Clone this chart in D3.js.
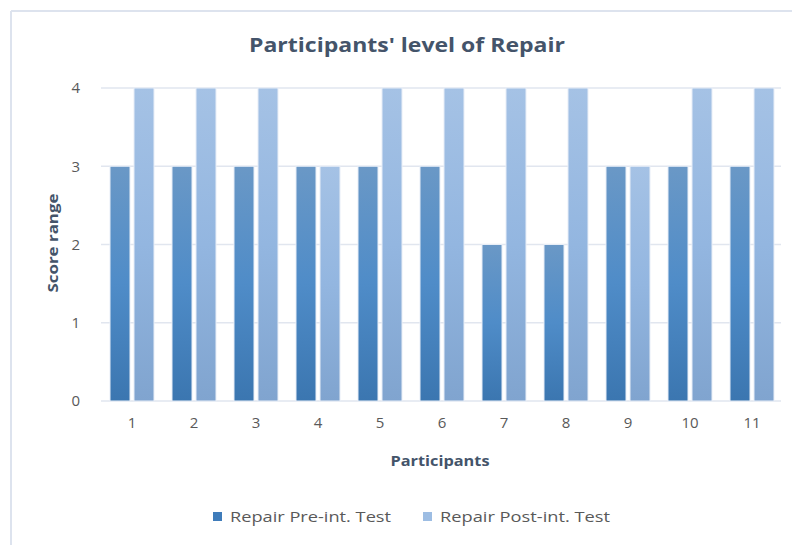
<!DOCTYPE html>
<html>
<head>
<meta charset="utf-8">
<script src="https://cdn.jsdelivr.net/npm/d3@7"></script>
<style>
body { margin: 0; background: #fff; }
text { font-family: "Open Sans", sans-serif; }
</style>
</head>
<body>
<script>
var participants = ['1','2','3','4','5','6','7','8','9','10','11'];
var preTest = [3,3,3,3,3,3,2,2,3,3,3];
var postTest = [4,4,4,3,4,4,4,4,3,4,4];
var yTicks = [0,1,2,3,4];
var seriesNames = ['Repair Pre-int. Test', 'Repair Post-int. Test'];

var W = 792, H = 545;
var svg = d3.select('body').append('svg').attr('width', W).attr('height', H);

// gradients
var defs = svg.append('defs');
var g1 = defs.append('linearGradient').attr('id', 'gPre').attr('x1', 0).attr('y1', 0).attr('x2', 0).attr('y2', 1);
g1.append('stop').attr('offset', '0%').attr('stop-color', '#6a98c6');
g1.append('stop').attr('offset', '50%').attr('stop-color', '#4f8cc8');
g1.append('stop').attr('offset', '100%').attr('stop-color', '#3b76b0');
var g2 = defs.append('linearGradient').attr('id', 'gPost').attr('x1', 0).attr('y1', 0).attr('x2', 0).attr('y2', 1);
g2.append('stop').attr('offset', '0%').attr('stop-color', '#a5c2e5');
g2.append('stop').attr('offset', '50%').attr('stop-color', '#93b6e0');
g2.append('stop').attr('offset', '100%').attr('stop-color', '#80a4cf');

// chart border (left and top only visible)
svg.append('line').attr('x1', 11).attr('y1', 11).attr('x2', W).attr('y2', 11).attr('stroke', '#dde3ee').attr('stroke-width', 2);
svg.append('line').attr('x1', 11).attr('y1', 11).attr('x2', 11).attr('y2', H).attr('stroke', '#dde3ee').attr('stroke-width', 2);

var x = d3.scaleBand().domain(participants).range([101, 783]);
var y = d3.scaleLinear().domain([0, 4]).range([401, 88]);

// gridlines
svg.selectAll('.grid').data(yTicks).enter().append('line')
    .attr('x1', 101).attr('x2', 781)
    .attr('y1', d => y(d)).attr('y2', d => y(d))
    .attr('stroke', '#e1e6ef').attr('stroke-width', 1.5);

var barW = 20, gap = 4;
var inner = d3.scaleBand().domain([0, 1]).range([0, barW * 2 + gap]).paddingInner(gap / (barW + gap));
var offset = (x.bandwidth() - (barW * 2 + gap)) / 2;

svg.selectAll('.pre').data(preTest).enter().append('rect')
    .attr('x', (d, i) => x(participants[i]) + offset + inner(0))
    .attr('y', d => y(d))
    .attr('width', inner.bandwidth())
    .attr('height', d => y(0) - y(d))
    .attr('fill', 'url(#gPre)')
    .attr('stroke', '#e8eef7').attr('stroke-width', 1);

svg.selectAll('.post').data(postTest).enter().append('rect')
    .attr('x', (d, i) => x(participants[i]) + offset + inner(1))
    .attr('y', d => y(d))
    .attr('width', inner.bandwidth())
    .attr('height', d => y(0) - y(d))
    .attr('fill', 'url(#gPost)')
    .attr('stroke', '#e8eef7').attr('stroke-width', 1);

// axes
var yAxis = svg.append('g').attr('transform', 'translate(80,0)')
    .call(d3.axisLeft(y).tickValues(yTicks).tickFormat(d3.format('d')).tickSize(0).tickPadding(0));
yAxis.select('.domain').remove();
yAxis.attr('font-size', 15).attr('font-family', '"Open Sans", sans-serif');
yAxis.selectAll('text').attr('fill', '#595959');

var xAxis = svg.append('g').attr('transform', 'translate(0,416)')
    .call(d3.axisBottom(x).tickSize(0).tickPadding(0));
xAxis.select('.domain').remove();
xAxis.attr('font-size', 15).attr('font-family', '"Open Sans", sans-serif');
xAxis.selectAll('text').attr('fill', '#595959').attr('dy', '0.8em');

// titles
svg.append('text').attr('x', 407).attr('y', 52).attr('text-anchor', 'middle')
    .attr('font-size', 20).attr('font-weight', 'bold').attr('fill', '#44546a')
    .attr('textLength', 316).attr('lengthAdjust', 'spacingAndGlyphs')
    .text("Participants' level of Repair");

svg.append('text').attr('x', 440).attr('y', 466).attr('text-anchor', 'middle')
    .attr('font-size', 15).attr('font-weight', 'bold').attr('fill', '#44546a')
    .attr('textLength', 99).attr('lengthAdjust', 'spacingAndGlyphs')
    .text('Participants');

svg.append('text').attr('transform', 'translate(58,243) rotate(-90)').attr('text-anchor', 'middle')
    .attr('font-size', 15).attr('font-weight', 'bold').attr('fill', '#44546a')
    .attr('textLength', 99).attr('lengthAdjust', 'spacingAndGlyphs')
    .text('Score range');

// legend
var legendX = [213, 423];
var legendFill = ['#3f7cba', '#9dbde3'];
var leg = svg.selectAll('.leg').data(seriesNames).enter().append('g')
    .attr('transform', (d, i) => 'translate(' + legendX[i] + ',512)');
leg.append('rect').attr('width', 9).attr('height', 9).attr('fill', (d, i) => legendFill[i]);
leg.append('text').attr('x', 17).attr('y', 10).attr('font-size', 15).attr('fill', '#595959')
    .attr('font-family', '"DejaVu Sans", sans-serif')
    .attr('textLength', (d, i) => i === 0 ? 161 : 170).attr('lengthAdjust', 'spacingAndGlyphs')
    .text(d => d);
</script>
</body>
</html>
